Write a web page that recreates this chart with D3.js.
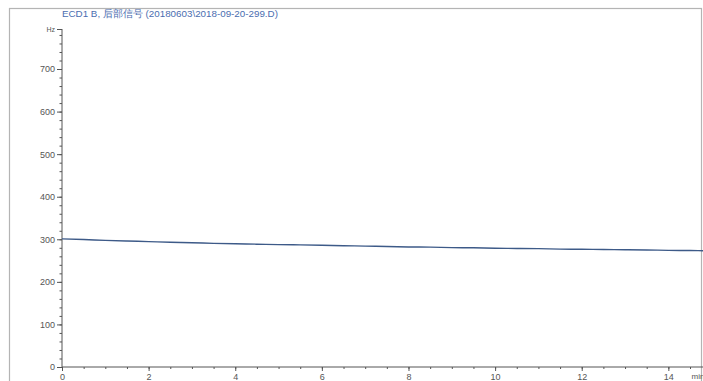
<!DOCTYPE html>
<html>
<head>
<meta charset="utf-8">
<script src="https://cdn.jsdelivr.net/npm/d3@7"></script>
<style>
  html, body { margin: 0; padding: 0; background: #fff; }
  svg { display: block; font-family: "Liberation Sans", Arial, sans-serif; }
</style>
</head>
<body>
<svg id="chart" width="703" height="381"></svg>
<script>
// ECD detector trace: retention time (min) vs signal (Hz)
const times  = [0, 0.5, 1, 1.5, 2, 2.5, 3, 3.5, 4, 4.5, 5, 5.5, 6, 6.5, 7, 7.5, 8, 8.5, 9, 9.5, 10, 10.5, 11, 11.5, 12, 12.5, 13, 13.5, 14, 14.5, 14.9];
const signal = [301, 299.5, 297.5, 296, 294.5, 293, 292, 290.5, 289.5, 288.5, 287.5, 287, 286, 285, 284, 283, 282, 281.5, 280.5, 280, 279, 278.5, 278, 277, 276.5, 276, 275.5, 275, 274, 273.5, 273];

const xMajorTicks = [0, 2, 4, 6, 8, 10, 12, 14];
const yMajorTicks = [0, 100, 200, 300, 400, 500, 600, 700];
const yTopValue = 794;
const titleText = "ECD1 B, 后部信号 (20180603\\2018-09-20-299.D)";
const yUnit = "Hz";
const xUnit = "min";

const svg = d3.select("#chart");
const W = 703, H = 381;

// outer frame
svg.append("rect")
  .attr("x", 9.5).attr("y", 8.5)
  .attr("width", 692).attr("height", 400)
  .attr("fill", "none").attr("stroke", "#b4b4b4").attr("stroke-width", 1.2);

const x = d3.scaleLinear().domain([0, 14.8]).range([62, 703]);
const y = d3.scaleLinear().domain([0, yTopValue]).range([367, 29]);

const axisColor = "#555";
const labelColor = "#555";

// x axis
const gx = svg.append("g").attr("transform", `translate(0,${y(0)})`);
gx.append("line").attr("x1", x(0)).attr("x2", W).attr("stroke", axisColor).attr("stroke-width", 1);
gx.call(d3.axisBottom(x).tickValues(d3.range(0, 14.8, 0.5)).tickSize(2).tickFormat(""))
  .call(g => g.select(".domain").remove())
  .call(g => g.selectAll("line").attr("stroke", axisColor));
gx.append("g").call(d3.axisBottom(x).tickValues(xMajorTicks).tickSize(4).tickPadding(3).tickFormat(d3.format("d")))
  .call(g => g.select(".domain").remove())
  .call(g => g.selectAll("line").attr("stroke", axisColor))
  .call(g => g.selectAll("text").attr("fill", labelColor).attr("font-size", 9).attr("font-family", "Liberation Sans, Arial, sans-serif"));
gx.append("text").attr("x", x(14.8) - 5).attr("y", 12).attr("font-size", 8).attr("fill", labelColor).text(xUnit);

// y axis
const gy = svg.append("g").attr("transform", `translate(${x(0)},0)`);
gy.append("line").attr("y1", y(0)).attr("y2", y(yTopValue)).attr("stroke", axisColor).attr("stroke-width", 1);
gy.call(d3.axisLeft(y).tickValues(d3.range(0, 781, 20)).tickSize(2.5).tickFormat(""))
  .call(g => g.select(".domain").remove())
  .call(g => g.selectAll("line").attr("stroke", axisColor));
gy.append("g").call(d3.axisLeft(y).tickValues(yMajorTicks.concat([yTopValue])).tickSize(5).tickPadding(2)
    .tickFormat(d => d === yTopValue ? yUnit : d3.format("d")(d)))
  .call(g => g.select(".domain").remove())
  .call(g => g.selectAll("line").attr("stroke", axisColor))
  .call(g => g.selectAll("text").attr("fill", labelColor).attr("font-size", 9).attr("font-family", "Liberation Sans, Arial, sans-serif"))
  .call(g => g.selectAll("text").filter(d => d === yTopValue).attr("font-size", 7));

// title
svg.append("text").attr("x", x(0)).attr("y", 17)
  .attr("font-size", 9.8).attr("fill", "#4a6db0")
  .text(titleText);

// signal trace
const line = d3.line().x((d, i) => x(times[i])).y(d => y(d)).curve(d3.curveMonotoneX);
svg.append("path").datum(signal)
  .attr("d", line)
  .attr("fill", "none").attr("stroke", "#3d5a88").attr("stroke-width", 1.4);
</script>
</body>
</html>
